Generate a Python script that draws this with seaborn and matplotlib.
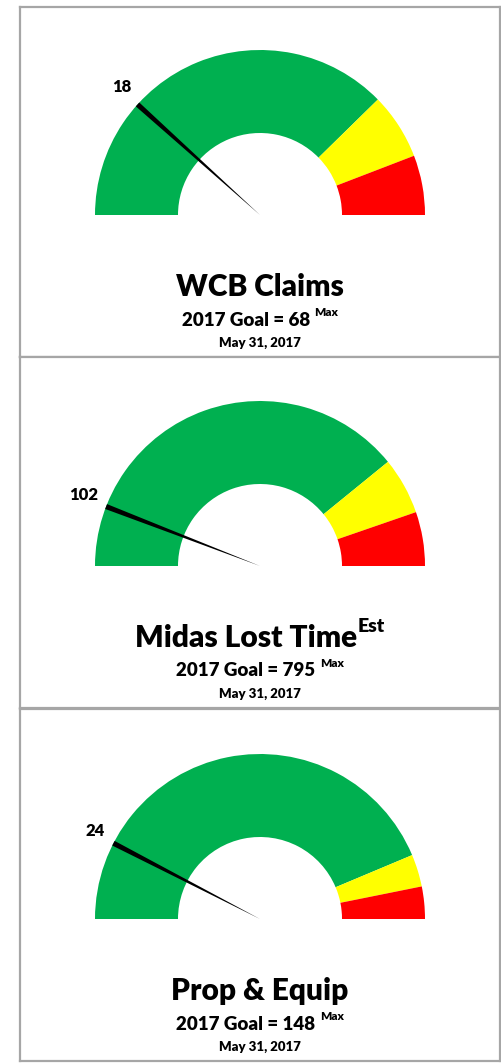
import numpy as np
import matplotlib
matplotlib.use("Agg")
import matplotlib.pyplot as plt
from matplotlib.patches import Wedge, Polygon
import seaborn as sns

sns.set_theme(style="white")
plt.rcParams['font.family'] = ['Lato', 'DejaVu Sans']

# ── Data ─────────────────────────────────────────────────────────────────────
titles = ["WCB Claims", "Midas Lost Time", "Prop & Equip"]
title_sups = ["", "Est", ""]
goals = [68, 795, 148]
actuals = [18, 102, 24]
green_band = [58, 680, 138]
yellow_band = [10, 97, 10]
red_band = [9, 92, 10]
date_label = "May 31, 2017"

BAND_COLORS = ['#00B050', '#FFFF00', '#FF0000']
BORDER = '#A6A6A6'
WEIGHT = 'heavy'

# panel boxes in figure pixels (top, bottom)
W, H = 502, 1063
panels = [(7, 357), (357, 708), (709, 1061)]
R_OUT, R_IN = 165, 82


def val2ang(v, total):
    return 180.0 - 180.0 * v / total


def centered_group(ax, x, y, main, sup, size, sup_size, gap, raise_pts):
    t = ax.text(x, y, main, ha='left', va='center', fontsize=size,
                fontweight=WEIGHT, color='black')
    s = None
    if sup:
        s = ax.annotate(sup, xy=(1, 1), xycoords=t, xytext=(gap, raise_pts),
                        textcoords='offset points', ha='left', va='top',
                        fontsize=sup_size, fontweight=WEIGHT, color='black')
    return t, s


fig = plt.figure(figsize=(W / 100, H / 100), dpi=100)
groups = []

for i, (top, bot) in enumerate(panels):
    ph = bot - top
    ax = fig.add_axes([20 / W, 1 - bot / H, 480 / W, ph / H])
    ax.set_xlim(0, 480)
    ax.set_ylim(0, ph)
    ax.set_xticks([])
    ax.set_yticks([])
    for sp in ax.spines.values():
        sp.set_visible(True)
        sp.set_color(BORDER)
        sp.set_linewidth(1.6)

    cx, cy = 240, 142
    total = green_band[i] + yellow_band[i] + red_band[i]
    edges = np.cumsum([0, green_band[i], yellow_band[i], red_band[i]])
    for k, col in enumerate(BAND_COLORS):
        a1 = val2ang(edges[k + 1], total)
        a2 = val2ang(edges[k], total)
        ax.add_patch(Wedge((cx, cy), R_OUT, a1, a2, width=R_OUT - R_IN,
                           facecolor=col, edgecolor='none'))

    # needle
    a = np.deg2rad(val2ang(actuals[i], total))
    u = np.array([np.cos(a), np.sin(a)])
    n = np.array([-np.sin(a), np.cos(a)])
    c = np.array([cx, cy])
    tip = c + R_OUT * u
    ax.add_patch(Polygon([tip + 2.6 * n, tip - 2.6 * n, c], closed=True,
                         facecolor='black', edgecolor='none'))
    txt = f"{actuals[i]}"
    lbl = c + (R_OUT + 14 + 3.5 * len(txt)) * u
    ax.text(lbl[0], lbl[1] + 3, txt, ha='center', va='center',
            fontsize=12, fontweight=WEIGHT, color='black')

    # texts
    g1 = centered_group(ax, cx, cy - 72, titles[i], title_sups[i], 21.5, 14, 0, 4)
    g2 = centered_group(ax, cx, cy - 105, f"2017 Goal = {goals[i]}", "Max",
                        13.5, 8.5, 3, 3)
    ax.text(cx, cy - 128, date_label, ha='center', va='center', fontsize=9.5,
            fontweight=WEIGHT, color='black')
    groups.append((ax, cx, g1))
    groups.append((ax, cx, g2))

# centre each text+superscript group on the gauge centre
fig.canvas.draw()
r = fig.canvas.get_renderer()
for ax, cx, (t, s) in groups:
    bb = t.get_window_extent(r)
    x1 = bb.x1
    if s is not None:
        x1 = s.get_window_extent(r).x1
    width = x1 - bb.x0
    cx_disp = ax.transData.transform((cx, 0))[0]
    shift = (cx_disp - width / 2) - bb.x0
    x0, y0 = t.get_position()
    new_x = ax.transData.inverted().transform(
        (ax.transData.transform((x0, y0))[0] + shift, 0))[0]
    t.set_x(new_x)

fig.savefig("out.png", dpi=100)
